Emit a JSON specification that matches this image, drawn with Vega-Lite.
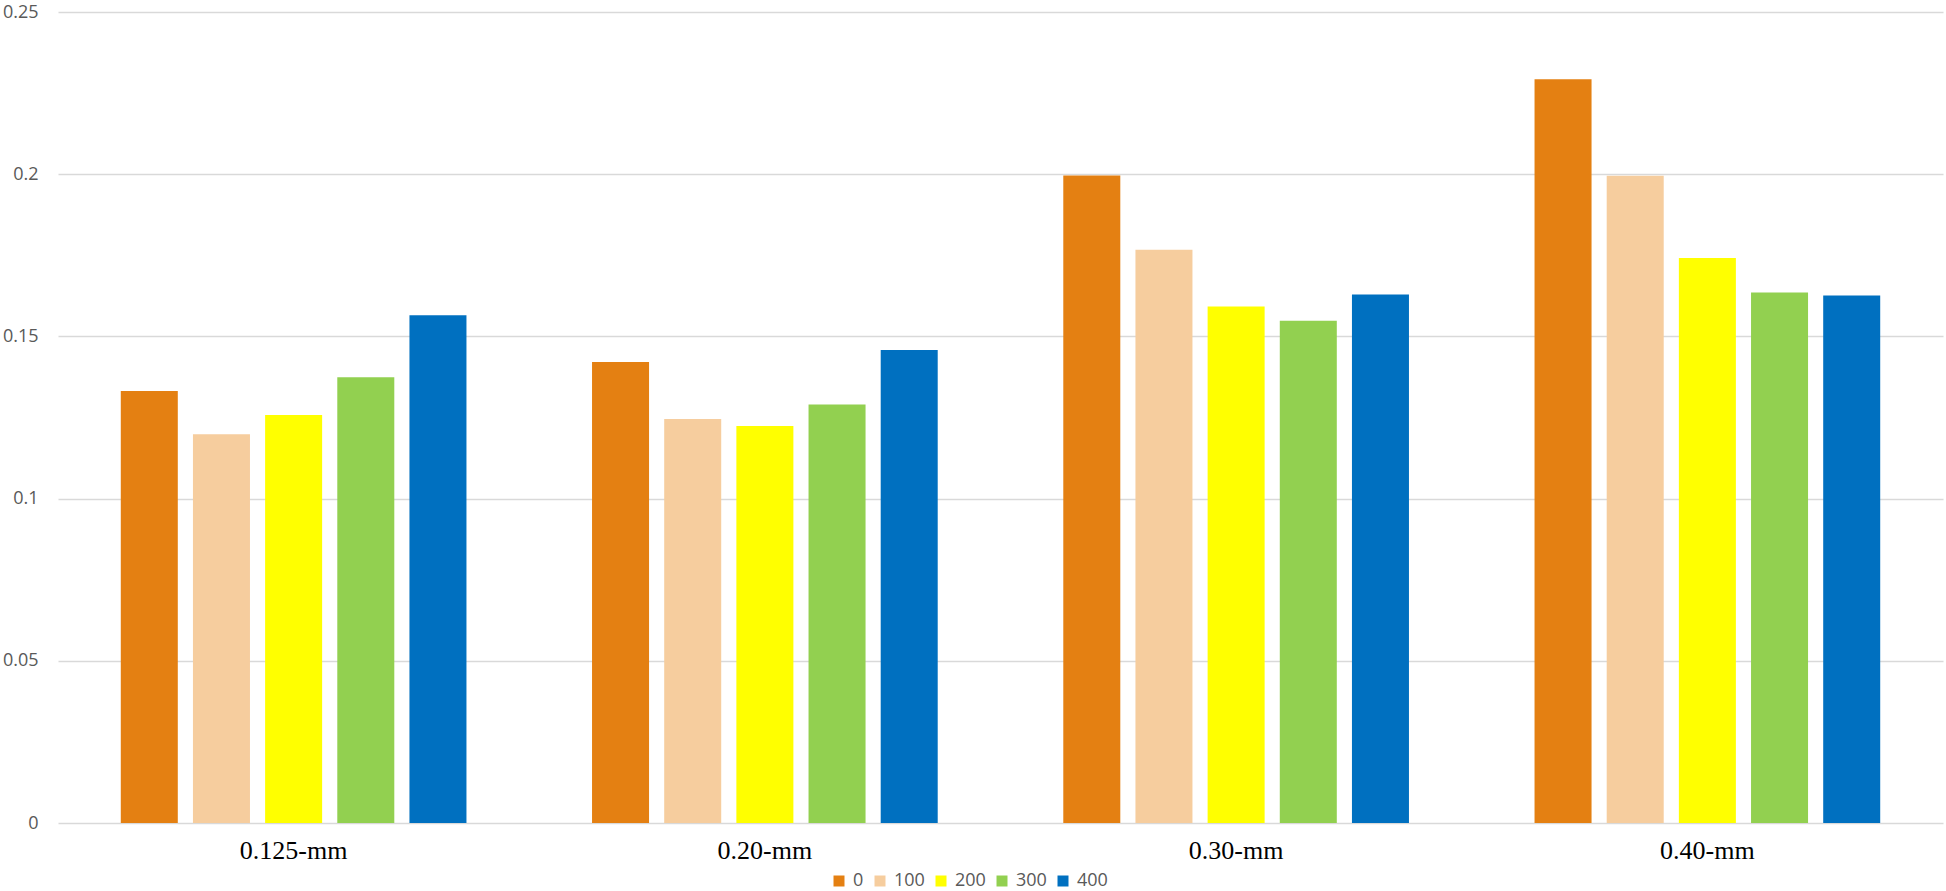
{
  "$schema": "https://vega.github.io/schema/vega-lite/v6.json",
  "width": 1885,
  "height": 811,
  "autosize": {"type": "none"},
  "padding": {"left": 58, "top": 12, "right": 3, "bottom": 68},
  "background": "#ffffff",
  "config": {"view": {"stroke": null}},
  "data": {
    "values": [
      {"size": "0.125-mm", "level": "0", "value": 0.1332},
      {"size": "0.125-mm", "level": "100", "value": 0.1198},
      {"size": "0.125-mm", "level": "200", "value": 0.1258},
      {"size": "0.125-mm", "level": "300", "value": 0.1374},
      {"size": "0.125-mm", "level": "400", "value": 0.1565},
      {"size": "0.20-mm", "level": "0", "value": 0.1421},
      {"size": "0.20-mm", "level": "100", "value": 0.1245},
      {"size": "0.20-mm", "level": "200", "value": 0.1224},
      {"size": "0.20-mm", "level": "300", "value": 0.1290},
      {"size": "0.20-mm", "level": "400", "value": 0.1458},
      {"size": "0.30-mm", "level": "0", "value": 0.1996},
      {"size": "0.30-mm", "level": "100", "value": 0.1767},
      {"size": "0.30-mm", "level": "200", "value": 0.1592},
      {"size": "0.30-mm", "level": "300", "value": 0.1548},
      {"size": "0.30-mm", "level": "400", "value": 0.1629},
      {"size": "0.40-mm", "level": "0", "value": 0.2293},
      {"size": "0.40-mm", "level": "100", "value": 0.1995},
      {"size": "0.40-mm", "level": "200", "value": 0.1742},
      {"size": "0.40-mm", "level": "300", "value": 0.1635},
      {"size": "0.40-mm", "level": "400", "value": 0.1626}
    ]
  },
  "mark": {"type": "bar"},
  "encoding": {
    "x": {
      "field": "size",
      "type": "nominal",
      "sort": ["0.125-mm", "0.20-mm", "0.30-mm", "0.40-mm"],
      "scale": {"paddingInner": 0, "paddingOuter": 0},
      "axis": {
        "title": null,
        "domain": false,
        "ticks": false,
        "labelAngle": 0,
        "labelFont": "Liberation Serif",
        "labelFontSize": 26,
        "labelColor": "#000000",
        "labelBaseline": "alphabetic",
        "labelPadding": 35,
        "labelDx": -13
      }
    },
    "xOffset": {
      "field": "level",
      "type": "nominal",
      "sort": ["0", "100", "200", "300", "400"],
      "scale": {"paddingInner": 0.21, "paddingOuter": 0.87}
    },
    "y": {
      "field": "value",
      "type": "quantitative",
      "scale": {"domain": [0, 0.25], "nice": false},
      "axis": {
        "title": null,
        "values": [0, 0.05, 0.1, 0.15, 0.2, 0.25],
        "format": ".2~f",
        "domain": false,
        "ticks": false,
        "grid": true,
        "gridColor": "#d9d9d9",
        "gridWidth": 1.5,
        "labelFont": "Open Sans",
        "labelFontSize": 18,
        "labelColor": "#595959",
        "labelPadding": 20
      }
    },
    "color": {
      "field": "level",
      "type": "nominal",
      "sort": ["0", "100", "200", "300", "400"],
      "scale": {
        "domain": ["0", "100", "200", "300", "400"],
        "range": ["#E48012", "#F6CD9E", "#FFFF00", "#92D050", "#0070C0"]
      },
      "legend": {
        "title": null,
        "orient": "none",
        "direction": "horizontal",
        "legendX": 772,
        "legendY": 860,
        "padding": 0,
        "symbolType": "square",
        "symbolSize": 121,
        "symbolStrokeWidth": 0,
        "labelFont": "Open Sans",
        "labelFontSize": 18,
        "labelColor": "#595959",
        "labelOffset": 5,
        "columnPadding": 7
      }
    }
  }
}
